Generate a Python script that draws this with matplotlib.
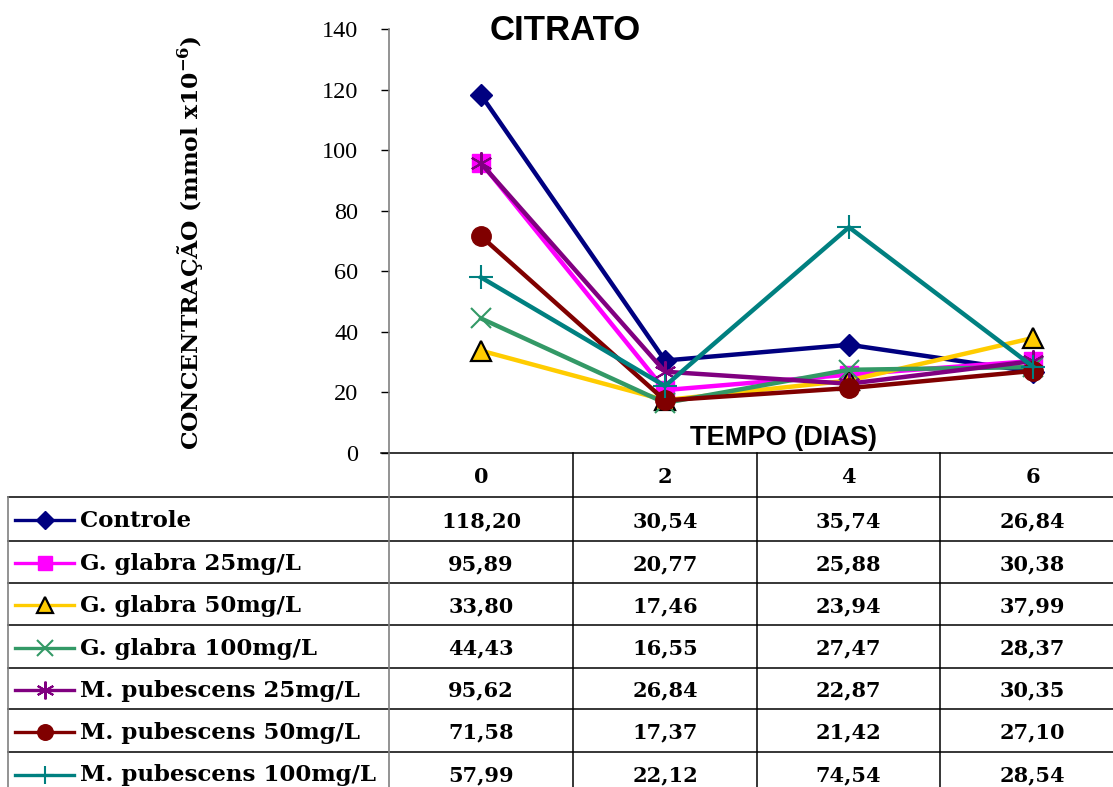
import matplotlib
matplotlib.use("Agg")
import matplotlib.pyplot as plt
from matplotlib.lines import Line2D

# ---- data -------------------------------------------------------------
days = ["0", "2", "4", "6"]
series_names = [
    "Controle",
    "G. glabra 25mg/L",
    "G. glabra 50mg/L",
    "G. glabra 100mg/L",
    "M. pubescens 25mg/L",
    "M. pubescens 50mg/L",
    "M. pubescens 100mg/L",
]
controle = [118.20, 30.54, 35.74, 26.84]
gg25 = [95.89, 20.77, 25.88, 30.38]
gg50 = [33.80, 17.46, 23.94, 37.99]
gg100 = [44.43, 16.55, 27.47, 28.37]
mp25 = [95.62, 26.84, 22.87, 30.35]
mp50 = [71.58, 17.37, 21.42, 27.10]
mp100 = [57.99, 22.12, 74.54, 28.54]
y_ticks = [0, 20, 40, 60, 80, 100, 120, 140]

all_values = [controle, gg25, gg50, gg100, mp25, mp50, mp100]

# ---- styles -----------------------------------------------------------
asterisk = (6, 2, 0)
line_colors = ["#000080", "#FF00FF", "#FFCC00", "#339966", "#800080", "#800000", "#008080"]
marker_styles = [
    dict(marker="D", ms=11, mfc="#000080", mec="#000080", mew=1),
    dict(marker="s", ms=13, mfc="#FF00FF", mec="#FF00FF", mew=1),
    dict(marker="^", ms=15, mfc="#FFCC00", mec="black", mew=1.6),
    dict(marker="x", ms=14, mfc="none", mec="#339966", mew=1.5),
    dict(marker=asterisk, ms=16, mfc="none", mec="#800080", mew=1.5),
    dict(marker="o", ms=14, mfc="#800000", mec="#800000", mew=1),
    dict(marker="+", ms=17, mfc="none", mec="#008080", mew=1.5),
]

W, H = 1113, 787
plt.rcParams["mathtext.fontset"] = "dejavuserif"
fig = plt.figure(figsize=(W / 100, H / 100), dpi=100)


def fx(px):
    return px / W


def fy(py):
    return 1 - py / H


# plot area
ax_left, ax_right, ax_top, ax_bottom = 389, 1125, 29, 453
ax = fig.add_axes([fx(ax_left), fy(ax_bottom), fx(ax_right - ax_left), (ax_bottom - ax_top) / H])
x = list(range(len(days)))
for vals, col, mst in zip(all_values, line_colors, marker_styles):
    ax.plot(x, vals, lw=3.2, color=col, **mst)

ax.set_xlim(-0.5, len(days) - 0.5)
ax.set_ylim(0, 140)
ax.set_yticks(y_ticks)
ax.set_yticklabels([str(t) for t in y_ticks], fontfamily="Liberation Serif", fontsize=17.5)
ax.tick_params(axis="y", direction="out", length=6, width=1, color="black", pad=16)
ax.set_xticks([])
for side in ["top", "right", "bottom"]:
    ax.spines[side].set_visible(False)
ax.spines["left"].set_color("#808080")
ax.spines["left"].set_linewidth(1.2)
ax.patch.set_alpha(0)

# titles
fig.text(fx(565), fy(31), "CITRATO", fontfamily="Liberation Sans", fontweight="bold",
         fontsize=25, ha="center", va="center")
fig.text(fx(784), fy(438), "TEMPO (DIAS)", fontfamily="Liberation Sans", fontweight="bold",
         fontsize=19.5, ha="center", va="center")
fig.text(fx(190), fy(243), "CONCENTRAÇÃO (mmol x10$^{\\mathbf{-6}}$)", fontfamily="DejaVu Serif",
         fontweight="bold", fontsize=16.8, rotation=90, ha="center", va="center")

# ---- data table beneath the plot ------------------------------------
col_edges = [389, 573, 757, 940, 1125]
row_edges = [453, 497, 541, 583, 625, 668, 709, 752, 795]


def hline(py, x0, x1, color="black", lw=1.1):
    fig.add_artist(Line2D([fx(x0), fx(x1)], [fy(py), fy(py)], color=color, lw=lw,
                          transform=fig.transFigure))


def vline(px, y0, y1, color="black", lw=1.1):
    fig.add_artist(Line2D([fx(px), fx(px)], [fy(y0), fy(y1)], color=color, lw=lw,
                          transform=fig.transFigure))


hline(453, 381, W)
for r in row_edges[1:-1]:
    hline(r, 8, W)
vline(389, 453, H, color="#808080", lw=1.2)
vline(8, 497, H, color="#808080", lw=1.2)
for c in col_edges[1:-1]:
    vline(c, 453, H)

label_font = dict(fontfamily="DejaVu Serif", fontweight="bold", fontsize=16.5)
value_font = dict(fontfamily="DejaVu Serif", fontweight="bold", fontsize=15)

# header row with the day numbers
for i, d in enumerate(days):
    cx = (col_edges[i] + col_edges[i + 1]) / 2
    fig.text(fx(cx), fy((row_edges[0] + row_edges[1]) / 2 + 2), d, ha="center", va="center", **value_font)

# body rows: legend key, series name and values
for r, (name, vals, col, mst) in enumerate(zip(series_names, all_values, line_colors, marker_styles)):
    cy = (row_edges[r + 1] + row_edges[r + 2]) / 2 + 2
    fig.add_artist(Line2D([fx(15), fx(74)], [fy(cy - 1), fy(cy - 1)], lw=2.4, color=col,
                          transform=fig.transFigure))
    key = dict(mst)
    key["ms"] = mst["ms"] * 0.8
    fig.add_artist(Line2D([fx(44.5)], [fy(cy - 1)], lw=0, transform=fig.transFigure, **key))
    fig.text(fx(80), fy(cy), name, ha="left", va="center", **label_font)
    for i, v in enumerate(vals):
        cx = (col_edges[i] + col_edges[i + 1]) / 2
        fig.text(fx(cx), fy(cy), f"{v:.2f}".replace(".", ","), ha="center", va="center", **value_font)

fig.savefig("out.png", dpi=100)
